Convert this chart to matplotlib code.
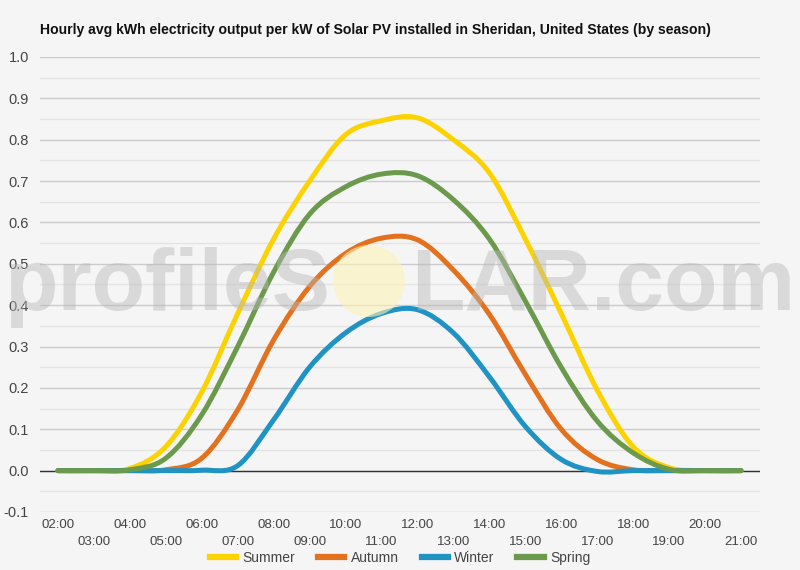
import numpy as np
import matplotlib.pyplot as plt
from matplotlib.path import Path
from matplotlib.patches import PathPatch, Circle
from matplotlib.lines import Line2D

plt.rcParams['font.family'] = ['Liberation Sans', 'DejaVu Sans']

# 数据：小时与各季节的平均发电量
hours = list(range(2, 22))
hour_labels = [f"{h:02d}:00" for h in hours]

summer = [0, 0, 0.005, 0.058, 0.19, 0.38, 0.56, 0.70, 0.812, 0.846, 0.853, 0.80, 0.72, 0.56, 0.38, 0.195, 0.058, 0.007, 0, 0]
autumn = [0, 0, 0, 0.002, 0.03, 0.147, 0.316, 0.445, 0.525, 0.562, 0.558, 0.485, 0.378, 0.233, 0.10, 0.027, 0.002, 0, 0, 0]
winter = [0, 0, 0, 0, 0.001, 0.012, 0.123, 0.25, 0.333, 0.38, 0.389, 0.333, 0.227, 0.107, 0.027, -0.002, 0, 0, 0, 0]
spring = [0, 0, 0.002, 0.03, 0.135, 0.30, 0.48, 0.62, 0.686, 0.717, 0.713, 0.655, 0.56, 0.41, 0.25, 0.12, 0.043, 0.003, 0, 0]

series = {"Summer": summer, "Autumn": autumn, "Winter": winter, "Spring": spring}
colors = {"Summer": "#fcd300", "Autumn": "#e3711e", "Winter": "#1f93c4", "Spring": "#6c9a4c"}

bg = "#f5f5f5"


def smooth_path(x, y, k=1 / 6):
    # 贝塞尔平滑曲线（类似 Google Charts 的 function 曲线）
    x = np.asarray(x, float)
    y = np.asarray(y, float)
    n = len(x)
    verts = [(x[0], y[0])]
    codes = [Path.MOVETO]
    for i in range(n - 1):
        p0 = max(i - 1, 0)
        p3 = min(i + 2, n - 1)
        c1 = (x[i] + (x[i + 1] - x[p0]) * k, y[i] + (y[i + 1] - y[p0]) * k)
        c2 = (x[i + 1] - (x[p3] - x[i]) * k, y[i + 1] - (y[p3] - y[i]) * k)
        verts += [c1, c2, (x[i + 1], y[i + 1])]
        codes += [Path.CURVE4] * 3
    return Path(verts, codes)


fig = plt.figure(figsize=(8, 5.7), dpi=100, facecolor=bg)
ax = fig.add_axes([0.05, 0.1018, 0.90, 0.7982], facecolor=bg)

ax.set_xlim(1.5, 21.53)
ax.set_ylim(-0.1, 1.0)

# 网格线
for v in np.arange(-0.1, 1.001, 0.05):
    major = abs(round(v * 20) % 2) == 0
    ax.axhline(v, color="#cccccc" if major else "#e4e4e4", lw=1, zorder=1)
ax.axhline(0, color="#333333", lw=1, zorder=2)

for name, vals in series.items():
    patch = PathPatch(smooth_path(hours, vals), fill=False, edgecolor=colors[name],
                      lw=3.6, capstyle="round", joinstyle="round", zorder=3)
    ax.add_patch(patch)

for s in ax.spines.values():
    s.set_visible(False)

yt = np.round(np.arange(-0.1, 1.001, 0.1), 1)
ax.set_yticks(yt)
ax.set_yticklabels([f"{v:.1f}" for v in yt])
ax.tick_params(axis="y", length=0, pad=8, labelsize=10.5, labelcolor="#444444")

ax.set_xticks(hours)
ax.set_xticklabels([lab if i % 2 == 0 else "\n" + lab for i, lab in enumerate(hour_labels)],
                   linespacing=1.6)
ax.tick_params(axis="x", length=0, pad=5, labelsize=9.5, labelcolor="#444444")

fig.text(0.05, 0.948, "Hourly avg kWh electricity output per kW of Solar PV installed in Sheridan, United States (by season)",
         fontsize=10.05, fontweight="bold", color="#111111", va="center")

handles = [Line2D([0], [0], color=colors[n], lw=4.5) for n in series]
fig.legend(handles, list(series.keys()), loc="center", bbox_to_anchor=(0.5, 0.021), ncol=4,
           frameon=False, fontsize=10, handlelength=1.9, handletextpad=0.45, columnspacing=1.65,
           labelcolor="#444444")

# 水印
fig.text(0.413, 1 - 310 / 570, "profileS", fontsize=63, fontweight="bold", color="#b8b8b8", alpha=0.45,
         ha="right", va="baseline", zorder=10)
fig.text(0.514, 1 - 310 / 570, "LAR.com", fontsize=63, fontweight="bold", color="#b8b8b8", alpha=0.45,
         ha="left", va="baseline", zorder=10)
sun = Circle((3.69, 5.7 - 2.81), 0.36, transform=fig.dpi_scale_trans,
             facecolor="#fdf2b8", edgecolor="none", alpha=0.6, zorder=10)
fig.patches.append(sun)

fig.savefig("out.png", dpi=100, facecolor=bg)
